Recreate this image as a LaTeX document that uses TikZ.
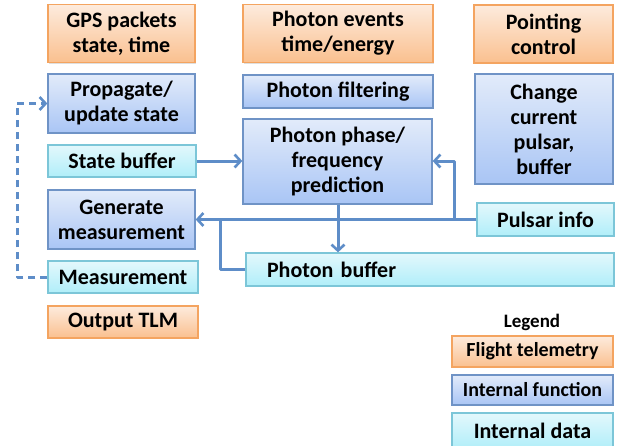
\documentclass[tikz,border=0pt]{standalone}
\usepackage{fontspec}
\setmainfont{Carlito}
\usetikzlibrary{shadows,arrows.meta}
\definecolor{orbord}{HTML}{F4A460}
\definecolor{ortop}{HTML}{FDEBDD}
\definecolor{orbot}{HTML}{FAC08F}
\definecolor{blbord}{HTML}{6F93C6}
\definecolor{bltop}{HTML}{E2EBFA}
\definecolor{blbot}{HTML}{A9C5F5}
\definecolor{cybord}{HTML}{7CC6D8}
\definecolor{cytop}{HTML}{E3F8FC}
\definecolor{cybot}{HTML}{B0EEF9}
\definecolor{arr}{HTML}{5E8DC8}
\tikzset{
  x=1pt, y=-1pt,
  box/.style={draw, line width=1.3pt, inner sep=0pt, align=center,
     font=\fontsize{22}{25}\selectfont\bfseries,
     drop shadow={opacity=0.25, shadow xshift=1.2pt, shadow yshift=-1.2pt}},
  orbox/.style={box, draw=orbord, top color=ortop, bottom color=orbot},
  blbox/.style={box, draw=blbord, top color=bltop, bottom color=blbot},
  cybox/.style={box, draw=cybord, top color=cytop, bottom color=cybot},
  conn/.style={draw=arr, line width=3pt, line join=round},
  arrtip/.style={-{Straight Barb[length=6pt,width=13pt,line width=2.6pt]}},
}
\newcommand{\bx}[6]{\node[#1, minimum width=#4pt, minimum height=#5pt] (#2) at (#3) {#6};}
\begin{document}
\begin{tikzpicture}
\useasboundingbox (0,0) rectangle (624,445);
% orange
\bx{orbox}{gps}{121.5,33.5}{147}{58}{GPS packets\\state, time}
\bx{orbox}{phev}{338,33.5}{190}{58}{Photon events\\time/energy}
\bx{orbox}{point}{543.5,34}{139}{58}{Pointing\\control}
\bx{orbox}{out}{123,322}{150}{32}{Output TLM}
% blue
\bx{blbox}{prop}{121.5,103.5}{147}{59}{Propagate/\\update state}
\bx{blbox}{filt}{338,91.5}{190}{33}{Photon filtering}
\bx{blbox}{change}{544,129}{138}{110}{Change\\current\\pulsar,\\buffer}
\bx{blbox}{phase}{337.5,161.5}{189}{85}{Photon phase/\\frequency\\prediction}
\bx{blbox}{gen}{121.5,219.5}{147}{59}{Generate\\measurement}
% cyan
\bx{cybox}{sbuf}{122,161}{148}{32}{State buffer}
\bx{cybox}{pinfo}{545.5,219.5}{137}{33}{Pulsar info}
\node[cybox, minimum width=368pt, minimum height=33pt, text width=326pt, align=left] (pbuf) at (430,269.5) {Photon buffer};
\bx{cybox}{meas}{123,277}{150}{32}{Measurement}
% legend
\node[font=\fontsize{19}{22}\selectfont\bfseries] (leg) at (532,322) {Legend};
\node[orbox, minimum width=161pt, minimum height=31pt, font=\fontsize{20}{22}\selectfont\bfseries] (lft) at (532.5,351.5) {Flight telemetry};
\node[blbox, minimum width=161pt, minimum height=30pt, font=\fontsize{20}{22}\selectfont\bfseries] (lif) at (532.5,390) {Internal function};
\node[cybox, minimum width=161pt, minimum height=36pt, font=\fontsize{22}{24}\selectfont\bfseries] (lid) at (532.5,431) {Internal data};
% connectors
\draw[conn, arrtip] (sbuf.east) -- (phase.west |- sbuf.east);
\coordinate (pj) at (454,161);
\draw[conn, arrtip] (pinfo.west) -| (pj) -- (phase.east |- pj);
\draw[conn, arrtip] (pinfo.west) -- (gen.east |- pinfo.west);
\draw[conn, arrtip] (phase.south -| 338,0) -- (338,0 |- pbuf.north);
\coordinate (bj) at (220,220);
\draw[conn] (pbuf.west) -| (bj);
\coordinate (dj) at (17,0);
\draw[conn, dashed, dash pattern=on 7pt off 5pt, arrtip] (meas.west) -| (dj |- prop.west) -- (prop.west);
\end{tikzpicture}
\end{document}
